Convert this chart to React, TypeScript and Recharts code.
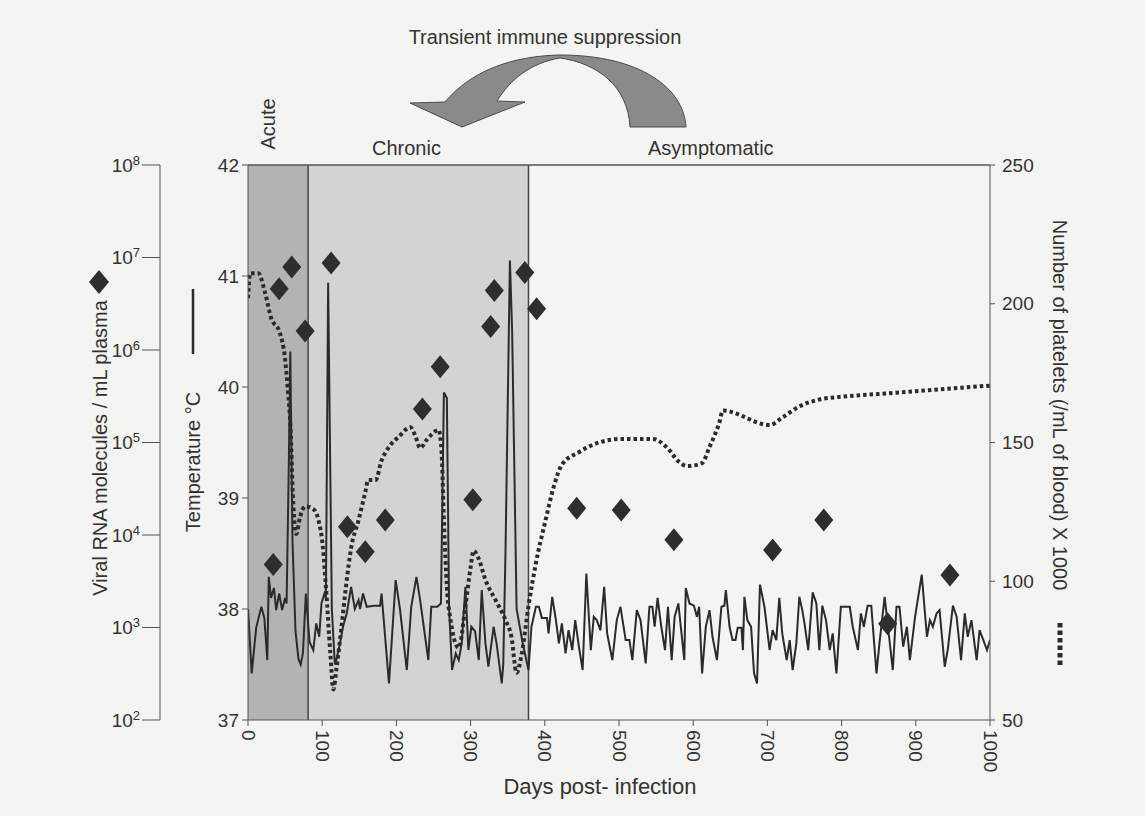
import React from 'react';
import {
  ComposedChart,
  Line,
  Scatter,
  XAxis,
  YAxis,
  ReferenceArea,
  ReferenceLine,
} from 'recharts';

// ---------- data ----------
const tempDays = [
  0, 5, 11, 18, 22, 26, 28, 31, 35, 38, 42, 46, 50, 52, 55, 57, 60, 64, 68, 71, 74, 78, 83, 88, 92, 96, 99, 103,
  105, 108, 113, 117, 119, 124, 128, 133, 139, 144, 149, 151, 155, 160, 170, 178, 180, 190, 199, 205, 214, 220,
  227, 232, 243, 247, 255, 260, 264, 268, 271, 275, 280, 284, 288, 293, 297, 301, 306, 311, 315, 320, 324, 331,
  335, 342, 344, 347, 353, 356, 362, 370, 378, 382, 388, 392, 396, 403, 405, 410, 415, 419, 423, 428, 432, 437,
  441, 446, 451, 456, 462, 466, 470, 475, 480, 484, 491, 497, 502, 509, 514, 518, 524, 529, 536, 541, 545, 548,
  552, 557, 562, 566, 571, 575, 580, 588, 590, 595, 601, 605, 608, 612, 617, 622, 626, 632, 638, 642, 644, 649,
  653, 657, 660, 665, 667, 669, 673, 678, 682, 686, 690, 696, 703, 707, 712, 716, 720, 726, 730, 734, 739, 743,
  747, 750, 755, 761, 766, 770, 774, 779, 784, 788, 793, 799, 811, 815, 822, 826, 830, 835, 840, 847, 851, 858,
  864, 869, 874, 878, 883, 888, 892, 899, 908, 915, 919, 923, 928, 932, 939, 943, 950, 955, 961, 966, 970, 975,
  982, 986, 991, 996, 1000,
];
const tempValues = [
  38.0, 37.42, 37.83, 38.02, 37.92, 37.54, 38.29, 38.1, 38.19, 37.99, 38.14, 37.99, 38.1, 38.05, 39.3, 40.32,
  38.6, 37.8, 37.55, 37.5, 37.6, 38.14, 37.7, 37.63, 37.87, 37.75, 38.05, 38.14, 38.1, 40.94, 38.0, 37.5, 37.54,
  37.69, 37.84, 37.96, 38.2, 38.0, 38.08, 38.0, 38.14, 38.02, 38.03, 38.03, 38.14, 37.33, 38.26, 37.99, 37.45,
  38.02, 38.29, 38.08, 37.54, 38.02, 38.02, 38.05, 39.95, 39.9, 38.0, 37.45, 37.6, 37.54, 37.69, 38.2, 37.63,
  37.84, 37.8, 37.54, 38.17, 37.69, 37.48, 37.84, 37.69, 37.33, 37.5, 38.5, 41.14, 40.5, 38.0, 37.7, 37.45,
  37.84, 38.02, 38.02, 37.92, 37.92, 37.78, 38.11, 37.9, 37.69, 37.87, 37.6, 37.81, 37.63, 37.9, 37.66, 37.45,
  38.32, 37.63, 37.93, 37.9, 37.81, 38.2, 37.78, 37.54, 37.9, 38.02, 37.72, 37.72, 37.54, 37.99, 37.9, 37.51,
  38.02, 38.02, 37.84, 38.1, 37.84, 37.63, 38.02, 37.54, 37.93, 38.05, 37.54, 38.19, 38.05, 38.03, 37.93, 38.02,
  37.42, 37.84, 37.99, 37.75, 37.54, 38.02, 38.03, 38.17, 37.84, 37.72, 37.72, 37.83, 37.83, 37.63, 38.11, 37.9,
  37.84, 37.42, 37.33, 38.22, 38.02, 37.63, 37.81, 37.72, 38.1, 37.78, 37.54, 37.72, 37.45, 37.69, 38.11, 37.99,
  37.87, 37.63, 38.15, 38.05, 37.63, 38.03, 37.9, 37.63, 37.78, 37.42, 38.02, 38.02, 37.84, 37.63, 37.96, 37.84,
  38.03, 38.03, 37.42, 37.69, 38.11, 37.75, 37.45, 38.02, 38.02, 37.66, 37.84, 37.54, 37.93, 38.31, 37.75, 37.9,
  37.84, 37.96, 37.99, 37.48, 37.63, 38.03, 37.93, 37.54, 37.96, 37.75, 37.9, 37.54, 37.81, 37.72, 37.63, 37.72,
];

const plateletDays = [
  0, 3, 14, 23, 31, 43, 50, 54, 57, 61, 65, 70, 77, 88, 95, 101, 105, 111, 115, 119, 126, 132, 139, 149, 158, 162,
  172, 180, 189, 203, 219, 226, 232, 241, 257, 261, 264, 268, 273, 284, 293, 300, 304, 311, 320, 334, 347, 355,
  362, 369, 378, 388, 401, 412, 423, 446, 473, 504, 545, 564, 581, 592, 612, 622, 635, 640, 703, 720, 743, 770,
  800, 850, 900, 950, 1000,
];
const plateletValues = [
  202, 211, 211, 204, 195, 189.5, 180, 168, 157, 128, 117, 123, 127, 126, 122, 112, 98, 74, 61, 68, 83.5, 98, 112,
  122, 132, 136.5, 136.5, 143.5, 148, 152, 155.5, 152, 148, 151, 154.5, 146, 122, 98, 86, 76, 91, 105, 111, 108,
  100.5, 93, 86, 80, 67, 74, 91, 106.5, 122, 134, 142, 146.5, 150, 151.3, 151.3, 148.4, 143, 141.5, 142.6, 148.4,
  157, 161.5, 156.3, 159, 163, 165.5, 166.5, 167.5, 168.5, 169.5, 170.5,
];

const viralDays = [34, 42, 59, 77, 112, 134, 158, 185, 235, 259, 303, 327, 332, 373, 389, 443, 503, 574, 707, 776, 862, 946];
const viralValues = [
  4800, 4600000, 7900000, 1600000, 8700000, 12300, 6600, 14500, 230000, 660000, 24000, 1800000, 4400000, 6900000,
  2800000, 19500, 18600, 8900, 6900, 14500, 1100, 3700,
];

const dayTicks = [0, 100, 200, 300, 400, 500, 600, 700, 800, 900, 1000];
const tempTicks = [37, 38, 39, 40, 41, 42];
const viralTicks = [1e2, 1e3, 1e4, 1e5, 1e6, 1e7, 1e8];
const viralExponents = ['2', '3', '4', '5', '6', '7', '8'];
const plateletTicks = [50, 100, 150, 200, 250];

const acuteEnd = 81;
const chronicEnd = 378;

const tempData = tempDays.map((d, i) => ({ day: d, t: tempValues[i] }));
const plateletData = plateletDays.map((d, i) => ({ day: d, p: plateletValues[i] }));
const viralData = viralDays.map((d, i) => ({ day: d, v: viralValues[i] }));

const FONT = '"Liberation Sans", Arial, Helvetica, sans-serif';
const INK = '#2b2b2b';
const TEXT = '#333333';

const Diamond = (props: any) => {
  const { cx, cy } = props;
  if (cx == null || cy == null) return null;
  const w = 9.5;
  const h = 11.5;
  return (
    <polygon
      points={`${cx},${cy - h} ${cx + w},${cy} ${cx},${cy + h} ${cx - w},${cy}`}
      fill="#2e2e2e"
    />
  );
};

const XTick = (props: any) => {
  const { x, y, payload } = props;
  return (
    <g transform={`translate(${x},${y})`}>
      <text transform="rotate(90)" x={2} y={6.5} textAnchor="start" fill={TEXT} fontSize={19} fontFamily={FONT}>
        {payload.value}
      </text>
    </g>
  );
};

const ViralTick = (props: any) => {
  const { x, y, payload } = props;
  const idx = viralTicks.indexOf(payload.value);
  return (
    <text x={x} y={y} dy="0.355em" textAnchor="end" fill={TEXT} fontSize={19} fontFamily={FONT}>
      <tspan>10</tspan>
      <tspan dy="-0.55em" fontSize={13}>
        {viralExponents[idx]}
      </tspan>
    </text>
  );
};

export default function App() {
  return (
    <div
      style={{
        position: 'absolute',
        left: 0,
        top: 0,
        width: 1145,
        height: 816,
        background: '#f4f4f2',
        fontFamily: FONT,
      }}
    >
      <ComposedChart
        width={1145}
        height={816}
        margin={{ top: 165, right: 95, bottom: 56, left: 100 }}
      >
        <XAxis
          dataKey="day"
          type="number"
          domain={[0, 1000]}
          ticks={dayTicks}
          allowDataOverflow
          height={40}
          stroke="#555"
          tickSize={6}
          tick={<XTick />}
        />
        <YAxis
          yAxisId="temp"
          orientation="left"
          type="number"
          domain={[37, 42]}
          ticks={tempTicks}
          width={88}
          stroke="#555"
          tickSize={6}
          tickMargin={3}
          tick={{ fill: TEXT, fontSize: 19, fontFamily: FONT }}
        />
        <YAxis
          yAxisId="viral"
          orientation="left"
          scale="log"
          type="number"
          domain={[100, 100000000]}
          ticks={viralTicks}
          allowDataOverflow
          width={60}
          stroke="#555"
          tickSize={18}
          tickMargin={2}
          tick={<ViralTick />}
        />
        <YAxis
          yAxisId="plat"
          orientation="right"
          type="number"
          domain={[50, 250]}
          ticks={plateletTicks}
          width={60}
          stroke="#555"
          tickSize={5}
          tickMargin={7}
          tick={{ fill: TEXT, fontSize: 19, fontFamily: FONT, textAnchor: 'start' }}
        />
        <ReferenceArea yAxisId="temp" x1={0} x2={acuteEnd} y1={37} y2={42} fill="#b3b3b3" fillOpacity={1} stroke="none" />
        <ReferenceArea yAxisId="temp" x1={acuteEnd} x2={chronicEnd} y1={37} y2={42} fill="#d3d3d3" fillOpacity={1} stroke="none" />
        <ReferenceLine yAxisId="temp" x={acuteEnd} stroke="#444" strokeWidth={1.5} />
        <ReferenceLine yAxisId="temp" x={chronicEnd} stroke="#444" strokeWidth={1.5} />
        <ReferenceLine yAxisId="temp" y={42} stroke="#555" strokeWidth={1.5} />
        <Line
          data={plateletData}
          yAxisId="plat"
          dataKey="p"
          type="monotone"
          stroke={INK}
          strokeWidth={4}
          strokeDasharray="3.5 3"
          dot={false}
          isAnimationActive={false}
        />
        <Line
          data={tempData}
          yAxisId="temp"
          dataKey="t"
          type="linear"
          stroke={INK}
          strokeWidth={2}
          dot={false}
          isAnimationActive={false}
        />
        <Scatter data={viralData} yAxisId="viral" dataKey="v" shape={<Diamond />} isAnimationActive={false} />
      </ComposedChart>

      <svg
        width={1145}
        height={816}
        style={{ position: 'absolute', left: 0, top: 0, pointerEvents: 'none' }}
        fontFamily={FONT}
      >
        <text x={545} y={44} textAnchor="middle" fontSize={20} fill={TEXT}>
          Transient immune suppression
        </text>
        <path
          d="M 686 127 C 684 88, 640 55, 560 55 C 510 56, 470 72, 445 102 L 410 103 L 462 127 L 525 102 L 497 101 C 510 80, 530 63, 560 58 C 597 63, 628 86, 630 127 Z"
          fill="#8a8a8a"
          stroke="#4a4a4a"
          strokeWidth={1}
        />
        <text transform="translate(275,124) rotate(-90)" textAnchor="middle" fontSize={20} fill={TEXT}>
          Acute
        </text>
        <text x={372} y={155} fontSize={20} fill={TEXT}>
          Chronic
        </text>
        <text x={648} y={155} fontSize={20} fill={TEXT}>
          Asymptomatic
        </text>

        <text transform="translate(107,448) rotate(-90)" textAnchor="middle" fontSize={20} fill={TEXT}>
          Viral RNA molecules  / mL plasma
        </text>
        <polygon points="99,270 109,282 99,294 89,282" fill="#2e2e2e" />

        <text transform="translate(200,462) rotate(-90)" textAnchor="middle" fontSize={20} fill={TEXT}>
          Temperature °C
        </text>
        <line x1={193} y1={289} x2={193} y2={354} stroke={INK} strokeWidth={2.5} />

        <text transform="translate(1053,405) rotate(90)" textAnchor="middle" fontSize={20} fill={TEXT}>
          Number of platelets (/mL of blood) X 1000
        </text>
        <line x1={1060} y1={623} x2={1060} y2={668} stroke={INK} strokeWidth={5} strokeDasharray="4.5 3" />

        <text x={600} y={794} textAnchor="middle" fontSize={22} fill={TEXT}>
          Days post- infection
        </text>
      </svg>
    </div>
  );
}
